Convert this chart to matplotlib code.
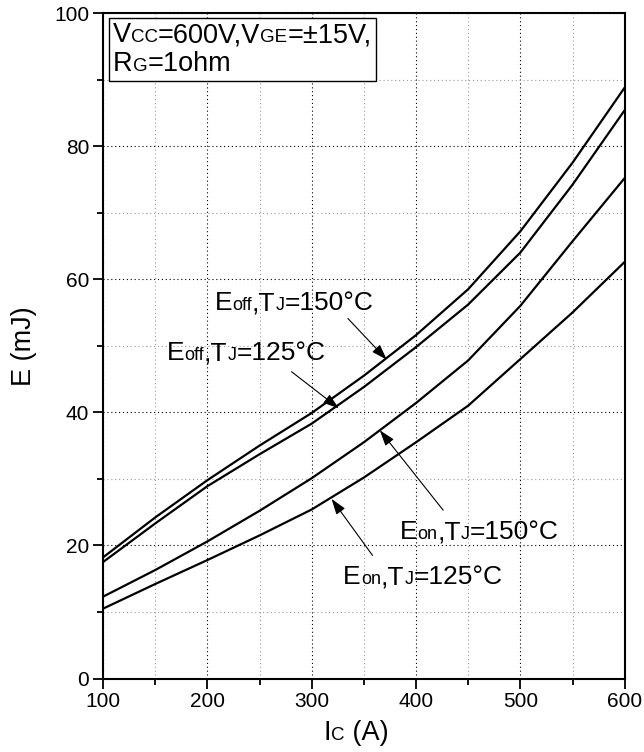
import matplotlib
matplotlib.use('Agg')
import matplotlib.pyplot as plt
from matplotlib.offsetbox import TextArea, HPacker, VPacker, AnnotationBbox
from matplotlib.ticker import MultipleLocator

FONT = 'Liberation Sans'
plt.rcParams['font.family'] = [FONT, 'DejaVu Sans']

# ---- data ----
ic = [100, 150, 200, 250, 300, 350, 400, 450, 500, 550, 600]
eoff_150 = [18.2, 24.2, 29.8, 35.0, 39.9, 45.5, 51.6, 58.5, 67.2, 77.5, 88.8]
eoff_125 = [17.5, 23.3, 28.9, 33.7, 38.3, 43.8, 49.8, 56.2, 64.0, 74.2, 85.4]
eon_150 = [12.3, 16.3, 20.6, 25.2, 30.1, 35.5, 41.4, 47.8, 56.0, 65.7, 75.2]
eon_125 = [10.5, 14.2, 17.8, 21.5, 25.4, 30.2, 35.5, 41.0, 48.0, 55.0, 62.6]

x_ticks = [100, 200, 300, 400, 500, 600]
y_ticks = [0, 20, 40, 60, 80, 100]

BIG = 19
SMALL = 13


def rich(parts, big=BIG, small=SMALL):
    kids = [TextArea(t, textprops=dict(fontsize=(small if s else big), family=[FONT, 'DejaVu Sans'], color='black'))
            for t, s in parts]
    return HPacker(children=kids, align='baseline', pad=0, sep=0)


fig = plt.figure(figsize=(6.44, 7.52), dpi=100)
ax = fig.add_axes([0.160, 0.0977, 0.810, 0.885])

for y in (eoff_150, eoff_125, eon_150, eon_125):
    ax.plot(ic, y, color='black', lw=1.6, solid_capstyle='butt', solid_joinstyle='round')

ax.set_xlim(100, 600)
ax.set_ylim(0, 100)
ax.set_xticks(x_ticks)
ax.set_yticks(y_ticks)
ax.xaxis.set_minor_locator(MultipleLocator(50))
ax.yaxis.set_minor_locator(MultipleLocator(10))
ax.tick_params(which='major', direction='out', length=7, width=1.3, labelsize=15, pad=3,
               top=False, right=False)
ax.tick_params(which='minor', direction='out', length=4, width=1.3, top=False, right=False)
for s in ax.spines.values():
    s.set_linewidth(1.5)

ax.grid(which='major', color='black', linestyle=(0, (1, 2.5)), lw=0.8)
ax.grid(which='minor', color='#9a9a9a', linestyle=(0, (1, 2.5)), lw=0.8)
ax.set_axisbelow(True)

ax.set_ylabel('E (mJ)', fontsize=19.5, labelpad=12)

# x label with small-cap subscript
xl = rich([('I', False), ('C', True), (' (A)', False)], big=19.5, small=13.5)
fig.add_artist(AnnotationBbox(xl, (0.485 * 0.810 + 0.160, 0.025), xycoords='figure fraction',
                              frameon=False, box_alignment=(0.5, 0.5), pad=0))

# condition box
line1 = rich([('V', False), ('CC', True), ('=600V,V', False), ('GE', True), ('=\u00b115V,', False)], big=19.5, small=13.5)
line2 = rich([('R', False), ('G', True), ('=1ohm', False)], big=19.5, small=13.5)
box = VPacker(children=[line1, line2], align='left', pad=0, sep=2)
ab = AnnotationBbox(box, (0.019, 0.986), xycoords='axes fraction', box_alignment=(0, 1),
                    frameon=True, pad=0.3,
                    bboxprops=dict(edgecolor='black', facecolor='white', lw=1.0))
ax.add_artist(ab)

# annotations
arrow = dict(arrowstyle='-|>,head_length=0.6,head_width=0.2', color='black', lw=0.8,
             mutation_scale=16, shrinkA=0, shrinkB=0)
ann = [
    ([('E', False), ('off', True), (',T', False), ('J', True), ('=150\u00b0C', False)], (283, 56.4), (334.7, 54.1), (372, 47.9)),
    ([('E', False), ('off', True), (',T', False), ('J', True), ('=125\u00b0C', False)], (237, 48.9), (280.7, 46.1), (326, 40.6)),
    ([('E', False), ('on', True), (',T', False), ('J', True), ('=150\u00b0C', False)], (460.6, 22.0), (426, 25.3), (365.3, 37.3)),
    ([('E', False), ('on', True), (',T', False), ('J', True), ('=125\u00b0C', False)], (406.5, 15.2), (358.3, 18.5), (319, 27.0)),
]
for parts, tpos, tail, head in ann:
    ax.annotate('', xy=head, xytext=tail, arrowprops=arrow)
    ax.add_artist(AnnotationBbox(rich(parts), tpos, xycoords='data', frameon=False,
                                 box_alignment=(0.5, 0.5), pad=0))

fig.savefig('out.png', dpi=100)
